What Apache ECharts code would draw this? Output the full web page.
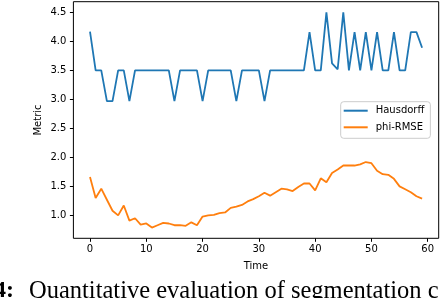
<!DOCTYPE html>
<html><head><meta charset="utf-8">
<script src="https://cdn.jsdelivr.net/npm/echarts@6/dist/echarts.min.js"></script>
<style>html,body{margin:0;padding:0;background:#fff;overflow:hidden}#c{width:440px;height:298px}</style>
</head><body><div id="c"></div>
<script>
const times = [0,1,2,3,4,5,6,7,8,9,10,11,12,13,14,15,16,17,18,19,20,21,22,23,24,25,26,27,28,29,30,31,32,33,34,35,36,37,38,39,40,41,42,43,44,45,46,47,48,49,50,51,52,53,54,55,56,57,58,59];
const hausdorff = [4.17,3.5,3.5,2.97,2.97,3.5,3.5,2.97,3.5,3.5,
  3.5,3.5,3.5,3.5,3.5,2.97,3.5,3.5,3.5,3.5,
  2.97,3.5,3.5,3.5,3.5,3.5,2.97,3.5,3.5,3.5,
  3.5,2.97,3.5,3.5,3.5,3.5,3.5,3.5,3.5,4.16,
  3.5,3.5,4.5,3.62,3.52,4.5,3.5,4.16,3.5,4.16,
  3.5,4.16,3.5,3.5,4.16,3.5,3.5,4.16,4.16,3.89];
const phiRmse = [1.66,1.30,1.46,1.27,1.08,1.00,1.17,0.91,0.95,0.84,
  0.86,0.79,0.83,0.87,0.86,0.83,0.83,0.82,0.88,0.83,
  0.98,1.00,1.01,1.04,1.05,1.13,1.15,1.18,1.24,1.28,
  1.33,1.39,1.34,1.40,1.46,1.45,1.42,1.49,1.55,1.55,
  1.43,1.64,1.57,1.73,1.79,1.86,1.86,1.86,1.88,1.92,
  1.90,1.77,1.71,1.70,1.63,1.50,1.45,1.40,1.33,1.29];
const xTicks = [0,10,20,30,40,50,60];
const yTicks = [1.0,1.5,2.0,2.5,3.0,3.5,4.0,4.5];
const seriesNames = ['Hausdorff','phi-RMSE'];
const xLabel = 'Time';
const yLabel = 'Metric';
const captionLabel = '4:';
const captionText = 'Quantitative evaluation of segmentation c';

const chart = echarts.init(document.getElementById('c'), null, {renderer:'canvas'});
const font = 'DejaVu Sans';
chart.setOption({
  animation: false,
  backgroundColor: '#fff',
  grid: {left: 73.4, top: 1.7, width: 365.3, height: 236.6, show: true, borderColor: '#000', borderWidth: 1, backgroundColor: 'transparent'},
  xAxis: {
    type: 'value', min: -2.95, max: 61.95,
    axisLine: {show: false, onZero: false},
    splitLine: {show: false},
    axisTick: {show: true, inside: false, length: 3.5, customValues: xTicks, lineStyle: {color: '#000', width: 1}},
    axisLabel: {show: true, customValues: xTicks, margin: 6, color: '#000', fontFamily: font, fontSize: 10}
  },
  yAxis: {
    type: 'value', min: 0.6045, max: 4.6855,
    axisLine: {show: false, onZero: false},
    splitLine: {show: false},
    axisTick: {show: true, inside: false, length: 3.5, customValues: yTicks, lineStyle: {color: '#000', width: 1}},
    axisLabel: {show: true, customValues: yTicks, margin: 7, color: '#000', fontFamily: font, fontSize: 10,
      formatter: v => v.toFixed(1)}
  },
  legend: {
    orient: 'vertical', left: 340.7, top: 101.7,
    data: seriesNames,
    icon: 'rect', itemWidth: 24, itemHeight: 2, itemGap: 4.6,
    padding: [3, 6, 5, 3],
    backgroundColor: 'rgba(255,255,255,0.8)', borderColor: '#cccccc', borderWidth: 1, borderRadius: 3,
    textStyle: {fontFamily: font, fontSize: 10, lineHeight: 12, color: '#000', padding: [0,0,0,3]}
  },
  series: [
    {name: seriesNames[0], type: 'line', data: times.map((t,i)=>[t, hausdorff[i]]), showSymbol: false, symbol: 'none',
      lineStyle: {color: '#1f77b4', width: 1.8}, itemStyle: {color: '#1f77b4'}},
    {name: seriesNames[1], type: 'line', data: times.map((t,i)=>[t, phiRmse[i]]), showSymbol: false, symbol: 'none',
      lineStyle: {color: '#ff7f0e', width: 1.8}, itemStyle: {color: '#ff7f0e'}}
  ],
  graphic: [
    {type: 'text', x: 38, y: 120, rotation: Math.PI/2, style: {text: yLabel, font: '10px "DejaVu Sans"', fill: '#000', align: 'center', verticalAlign: 'middle'}},
    {type: 'text', x: 256, y: 266, style: {text: xLabel, font: '10px "DejaVu Sans"', fill: '#000', align: 'center', verticalAlign: 'middle'}},
    {type: 'text', x: -6, y: 279, style: {text: captionLabel, font: 'bold 24px "Liberation Serif"', fill: '#000', align: 'left', verticalAlign: 'top'}},
    {type: 'text', x: 29, y: 279, style: {text: captionText, font: '24.5px "Liberation Serif"', fill: '#000', align: 'left', verticalAlign: 'top'}}
  ]
});
</script></body></html>
